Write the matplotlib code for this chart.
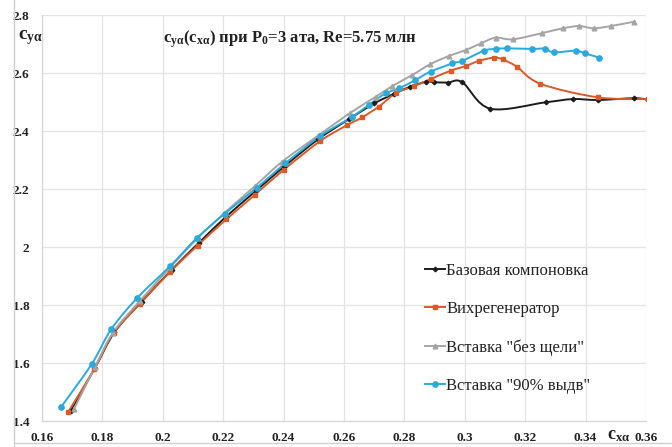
import matplotlib
matplotlib.use("Agg")
import matplotlib.pyplot as plt
from matplotlib.path import Path
from matplotlib.patches import PathPatch
from matplotlib.lines import Line2D

# -----------------------------------------------------------------------
# Data: c_ya vs c_xa
# -----------------------------------------------------------------------
base_x = [0.1695, 0.1775, 0.1840, 0.1930, 0.2030, 0.2120, 0.2210, 0.2310,
          0.2400, 0.2515, 0.2615, 0.2700, 0.2765, 0.2820, 0.2873, 0.2898,
          0.2944, 0.2992, 0.3084, 0.3268, 0.3357, 0.3440, 0.3561, 0.3605]
base_y = [1.436, 1.582, 1.706, 1.812, 1.922, 2.015, 2.105, 2.195,
          2.276, 2.372, 2.440, 2.495, 2.528, 2.553, 2.570, 2.568,
          2.567, 2.568, 2.477, 2.499, 2.510, 2.507, 2.513, 2.508]

vortex_x = [0.1687, 0.1773, 0.1837, 0.1925, 0.2025, 0.2115, 0.2210, 0.2305,
            0.2400, 0.2522, 0.2610, 0.2660, 0.2715, 0.2771, 0.2832, 0.2887,
            0.2953, 0.3003, 0.3047, 0.3097, 0.3125, 0.3172, 0.3250, 0.3441,
            0.3605]
vortex_y = [1.432, 1.579, 1.704, 1.805, 1.915, 2.005, 2.095, 2.180,
            2.266, 2.366, 2.420, 2.447, 2.484, 2.530, 2.555, 2.579,
            2.608, 2.624, 2.642, 2.653, 2.647, 2.622, 2.563, 2.516,
            2.510]

noslot_x = [0.1706, 0.1775, 0.1835, 0.1925, 0.2025, 0.2115, 0.2205, 0.2305,
            0.2395, 0.2517, 0.2620, 0.2705, 0.2760, 0.2826, 0.2885, 0.2948,
            0.3003, 0.3053, 0.3102, 0.3158, 0.3254, 0.3324, 0.3379, 0.3427,
            0.3484, 0.3561]
noslot_y = [1.441, 1.585, 1.705, 1.815, 1.930, 2.030, 2.118, 2.210,
            2.294, 2.386, 2.462, 2.518, 2.555, 2.593, 2.630, 2.659,
            2.679, 2.702, 2.722, 2.716, 2.737, 2.754, 2.762, 2.754,
            2.762, 2.777]

ext90_x = [0.1663, 0.1765, 0.1829, 0.1915, 0.2025, 0.2112, 0.2205, 0.2312,
           0.2406, 0.2522, 0.2627, 0.2682, 0.2738, 0.2782, 0.2835, 0.2887,
           0.2959, 0.2992, 0.3064, 0.3102, 0.3141, 0.3223, 0.3267, 0.3294,
           0.3367, 0.3397, 0.3445]
ext90_y = [1.448, 1.597, 1.716, 1.824, 1.935, 2.030, 2.115, 2.205,
           2.289, 2.383, 2.449, 2.490, 2.530, 2.547, 2.575, 2.605,
           2.633, 2.642, 2.677, 2.683, 2.685, 2.683, 2.684, 2.671,
           2.677, 2.668, 2.653]

labels = ["Базовая компоновка", "Вихрегенератор",
          'Вставка "без щели"', 'Вставка "90% выдв"']

x_ticks = [0.16, 0.18, 0.2, 0.22, 0.24, 0.26, 0.28, 0.3, 0.32, 0.34, 0.36]
x_tick_labels = ["0.16", "0.18", "0.2", "0.22", "0.24", "0.26", "0.28",
                 "0.3", "0.32", "0.34", "0.36"]
y_ticks = [1.4, 1.6, 1.8, 2.0, 2.2, 2.4, 2.6, 2.8]
y_tick_labels = ["1.4", "1.6", "1.8", "2", "2.2", "2.4", "2.6", "2.8"]

# -----------------------------------------------------------------------
# Styles (Excel-like)
# -----------------------------------------------------------------------
COLOR_BASE   = "#1c1c1c"
COLOR_VORTEX = "#dc5a28"
COLOR_NOSLOT = "#a5a5a5"
COLOR_EXT90  = "#2aa9dc"
COLOR_GRID   = "#e3e3e3"
COLOR_TEXT   = "#222222"

SERIF = "Liberation Serif"
plt.rcParams["font.family"] = [SERIF, "DejaVu Serif"]
plt.rcParams["mathtext.fontset"] = "custom"
plt.rcParams["mathtext.rm"] = SERIF + ":bold"
plt.rcParams["mathtext.it"] = SERIF + ":bold"
plt.rcParams["mathtext.bf"] = SERIF + ":bold"


def smooth_path(xs, ys):
    """Excel-style smoothed line: cubic Bezier through the data points."""
    pts = list(zip(xs, ys))
    n = len(pts)
    verts = [pts[0]]
    codes = [Path.MOVETO]
    for i in range(n - 1):
        p0 = pts[i - 1] if i > 0 else pts[i]
        p1 = pts[i]
        p2 = pts[i + 1]
        p3 = pts[i + 2] if i + 2 < n else pts[i + 1]
        c1 = (p1[0] + (p2[0] - p0[0]) / 6, p1[1] + (p2[1] - p0[1]) / 6)
        c2 = (p2[0] - (p3[0] - p1[0]) / 6, p2[1] - (p3[1] - p1[1]) / 6)
        verts += [c1, c2, p2]
        codes += [Path.CURVE4] * 3
    return Path(verts, codes)


fig = plt.figure(figsize=(6.72, 4.47), dpi=100)
fig.patch.set_facecolor("white")
ax = fig.add_axes([42 / 672, 1 - 421 / 447, (646 - 42) / 672, (421 - 15) / 447])

series = [
    (base_x, base_y, COLOR_BASE, "D", 2.3),
    (vortex_x, vortex_y, COLOR_VORTEX, "s", 3.0),
    (noslot_x, noslot_y, COLOR_NOSLOT, "^", 3.4),
    (ext90_x, ext90_y, COLOR_EXT90, "o", 3.8),
]

handles = []
for (xs, ys, color, marker, ms), label in zip(series, labels):
    patch = PathPatch(smooth_path(xs, ys), facecolor="none", edgecolor=color,
                      linewidth=1.4, zorder=3, capstyle="round")
    ax.add_patch(patch)
    ax.plot(xs, ys, linestyle="none", marker=marker, markersize=ms,
            color=color, zorder=4)
    handles.append(Line2D([], [], color=color, linewidth=1.4,
                          marker=marker, markersize=ms))

ax.set_xlim(0.16, 0.36)
ax.set_ylim(1.4, 2.8)
ax.set_xticks(x_ticks)
ax.set_xticklabels(x_tick_labels)
ax.set_yticks(y_ticks)
ax.set_yticklabels(y_tick_labels)
ax.tick_params(length=0, labelsize=9.5, colors=COLOR_TEXT)
ax.tick_params(axis="x", pad=8)
ax.tick_params(axis="y", pad=9)
for lbl in ax.get_xticklabels() + ax.get_yticklabels():
    lbl.set_fontweight("bold")

ax.grid(True, color=COLOR_GRID, linewidth=0.9)
ax.set_axisbelow(True)
for side in ["top", "right"]:
    ax.spines[side].set_visible(False)
for side in ["left", "bottom"]:
    ax.spines[side].set_color("#d6d6d6")
    ax.spines[side].set_linewidth(0.9)

# axis names placed like in the source chart
ax.text(-0.040, 0.945, r"$\mathrm{c_{y\alpha}}$", transform=ax.transAxes,
        fontsize=14, color=COLOR_TEXT, ha="left", va="center")
ax.text(0.955, -0.035, r"$\mathrm{c_{x\alpha}}$", transform=ax.transAxes,
        fontsize=13, color=COLOR_TEXT, ha="center", va="center")

ax.text(0.41, 0.94,
        r"$\mathrm{c_{y\alpha}(c_{x\alpha})}$ при P$_0$=3 ата, Re=5.75 млн",
        transform=ax.transAxes, fontsize=12, fontweight="bold",
        color=COLOR_TEXT, ha="center", va="center")

ax.legend(handles, labels, loc="lower left", bbox_to_anchor=(0.61, 0.03),
          frameon=False, fontsize=12, handlelength=1.2, handletextpad=0.05,
          labelspacing=1.33, labelcolor=COLOR_TEXT)

# thin chart-area border (left and bottom visible in the crop)
fig.add_artist(Line2D([14 / 672, 14 / 672], [0, 1], color="#d0d0d0",
                      linewidth=1.0, transform=fig.transFigure))
fig.add_artist(Line2D([14 / 672, 1], [4 / 447, 4 / 447], color="#d0d0d0",
                      linewidth=1.0, transform=fig.transFigure))

fig.savefig("out.png", dpi=100, facecolor="white")
plt.close(fig)
